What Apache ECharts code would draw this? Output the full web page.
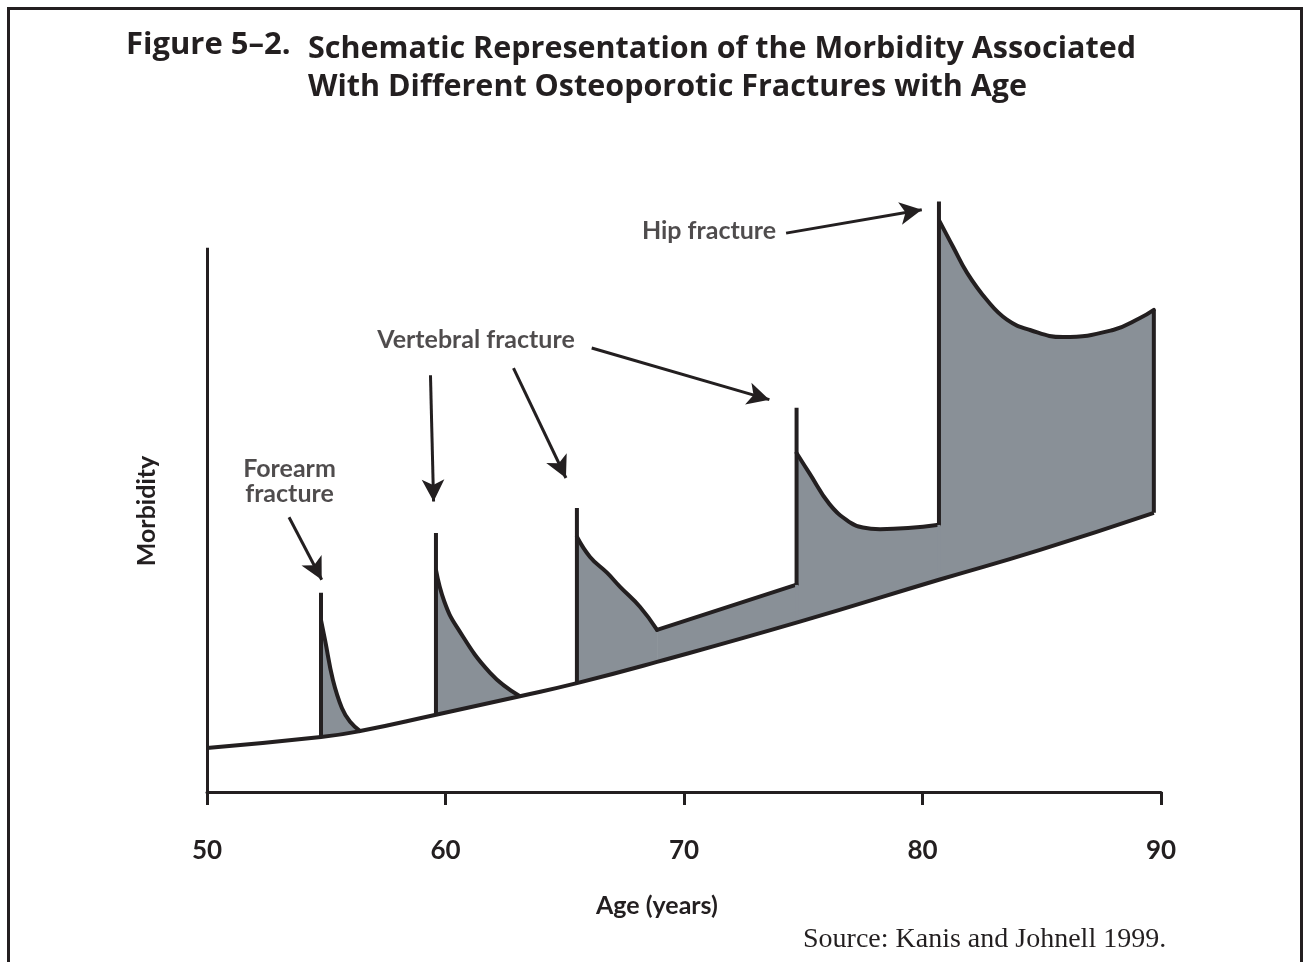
<!DOCTYPE html>
<html>
<head>
<meta charset="utf-8">
<title>Figure 5-2</title>
<script src="https://cdn.jsdelivr.net/npm/echarts@6/dist/echarts.min.js"></script>
<style>
  html, body { margin: 0; padding: 0; background: #fff; }
  #chart { width: 1304px; height: 962px; }
</style>
</head>
<body>
<div id="chart"></div>
<script>
// 横轴刻度（年龄）
const ageTicks = [50, 60, 70, 80, 90]

// 无骨折时随年龄上升的基础发病曲线 [age, morbidity]
const baseline = [[50, 8.1], [54.78, 10.1], [56.42, 11.2], [59.6, 14.2], [63.12, 17.6], [65.51, 20.0],
  [68.87, 23.9], [74.86, 31.3], [80.69, 39.0], [84.93, 44.5], [89.7, 51.3]]

// 各骨折后的额外发病曲线（从尖峰上的起点开始）
const forearmCurve = [[54.78, 31.6], [54.95, 27.9], [55.28, 20.6], [55.66, 15.4], [56.0, 12.9], [56.42, 11.2]]
const vertebralCurve1 = [[59.6, 40.8], [59.95, 35.0], [60.48, 30.3], [61.87, 21.9], [63.12, 17.6]]
const vertebralCurve2 = [[65.51, 46.9], [66.06, 43.2], [66.77, 40.3], [67.32, 37.7], [68.16, 34.0], [68.87, 29.8]]
const vertebralLink = [[68.87, 29.8], [74.72, 38.1]]
const vertebralCurve3 = [[74.72, 62.3], [75.27, 58.5], [76.1, 52.9], [76.94, 49.6], [77.5, 48.6], [78.22, 48.3], [80.69, 49.1]]
const hipCurve = [[80.69, 105.1], [81.28, 100.2], [81.87, 95.4], [82.7, 90.4], [83.54, 86.8],
  [84.51, 84.9], [85.89, 83.6], [87.99, 84.9], [89.12, 87.1], [89.7, 88.6]]

// 竖直尖峰线 [age, from, to]
const spikes = [[54.78, 10.1, 36.6], [59.6, 14.2, 47.6], [65.51, 20.0, 52.2], [74.72, 38.1, 70.6],
  [80.69, 49.1, 108.5], [89.7, 51.3, 88.6]]

// 相邻填充区域的接缝 [age, from, to]
const seams = [[74.72, 31.2, 38.1], [80.69, 39.0, 49.1]]

// 标注文字 [age, morbidity, text]
const labels = [[53.46, 57.1, 'Forearm\nfracture'], [61.28, 83.1, 'Vertebral fracture'], [71.05, 103.1, 'Hip fracture']]

// 箭头 [fromAge, fromMorbidity, toAge, toMorbidity]
const arrows = [[53.44, 50.5, 54.81, 39.0], [59.37, 76.6, 59.5, 53.4], [62.85, 77.9, 65.05, 57.7],
  [66.13, 81.6, 73.58, 72.1], [74.28, 102.7, 79.97, 107.0]]

const INK = '#231f20'
const GREY = '#899097'
const SANS = 'Lato, "Open Sans", sans-serif'
const TITLE_FONT = '"Open Sans", Lato, sans-serif'

function fractureSeries(data, smooth) {
  return {
    type: 'line',
    data: data,
    smooth: smooth,
    symbol: 'none',
    z: 2,
    lineStyle: { color: INK, width: 4, join: 'round', cap: 'round' },
    areaStyle: { color: GREY, opacity: 1, origin: 'start' }
  }
}

function vLine(s, color, width, z) {
  return {
    type: 'line',
    data: [[s[0], s[1]], [s[0], s[2]]],
    symbol: 'none',
    z: z,
    lineStyle: { color: color, width: width }
  }
}

const series = [
  fractureSeries(forearmCurve, 0.45),
  fractureSeries(vertebralCurve1, 0.45),
  fractureSeries(vertebralCurve2, 0.45),
  fractureSeries(vertebralLink, false),
  fractureSeries(vertebralCurve3, 0.45),
  fractureSeries(hipCurve, 0.45)
]

// 填充区的接缝用同色线盖住
seams.forEach(function (s) { series.push(vLine(s, GREY, 3, 2.5)) })
// 右端灰色溢出用白线盖住
series.push(vLine([89.7, 0, 51.3], '#ffffff', 3, 2.5))

series.push({
  type: 'line',
  data: baseline,
  smooth: 0.5,
  symbol: 'none',
  z: 3,
  lineStyle: { color: INK, width: 4 },
  areaStyle: { color: '#ffffff', opacity: 1, origin: 'start' },
  markLine: {
    silent: true,
    symbol: ['none', 'none'],
    label: { show: false },
    lineStyle: { color: INK, width: 3, type: 'solid' },
    data: [[{ coord: [ageTicks[0], 0] }, { coord: [ageTicks[0], 100] }]]
  }
})

spikes.forEach(function (s) { series.push(vLine(s, INK, 4, 4)) })

series.push({
  type: 'scatter',
  data: labels,
  symbolSize: 0,
  z: 6,
  label: {
    show: true,
    position: 'inside',
    formatter: function (p) { return p.value[2] },
    color: INK,
    fontFamily: SANS,
    fontWeight: 'bold',
    fontSize: 25,
    lineHeight: 25,
    align: 'center'
  },
  markLine: {
    silent: true,
    symbol: ['none', 'arrow'],
    symbolSize: [17, 22],
    label: { show: false },
    lineStyle: { color: INK, width: 3, type: 'solid' },
    data: arrows.map(function (a) { return [{ coord: [a[0], a[1]] }, { coord: [a[2], a[3]] }] })
  }
})

const chart = echarts.init(document.getElementById('chart'), null, { renderer: 'canvas' })
chart.setOption({
  animation: false,
  backgroundColor: '#ffffff',
  title: [
    { text: 'Figure 5–2.', left: 126, top: 30, padding: 0,
      textStyle: { fontFamily: TITLE_FONT, fontSize: 31, fontWeight: 'bold', color: INK } },
    { text: 'Schematic Representation of the Morbidity Associated\nWith Different Osteoporotic Fractures with Age',
      left: 308, top: 30, padding: 0,
      textStyle: { fontFamily: TITLE_FONT, fontSize: 30.5, fontWeight: 'bold', color: INK, lineHeight: 38 } },
    { text: 'Age (years)', left: 596, top: 893, padding: 0,
      textStyle: { fontFamily: SANS, fontSize: 25, fontWeight: 'bold', color: INK } },
    { text: 'Source: Kanis and Johnell 1999.', left: 803, top: 926, padding: 0,
      textStyle: { fontFamily: '"Liberation Serif", "DejaVu Serif", serif', fontSize: 28, fontWeight: 'normal', color: INK } }
  ],
  graphic: [
    { type: 'rect', silent: true, shape: { x: 8.5, y: 8.5, width: 1293, height: 1000 },
      style: { fill: 'none', stroke: INK, lineWidth: 3 } },
    { type: 'text', x: 147, y: 511, rotation: Math.PI / 2, silent: true,
      style: { text: 'Morbidity', fontFamily: SANS, fontWeight: 'bold', fontSize: 25, fill: INK, align: 'center', verticalAlign: 'middle' } }
  ],
  grid: { left: 207, right: 143, top: 139, bottom: 170, containLabel: false },
  xAxis: {
    type: 'value',
    min: ageTicks[0],
    max: ageTicks[ageTicks.length - 1],
    interval: 10,
    z: 10,
    axisLine: { lineStyle: { color: INK, width: 3 } },
    axisTick: { length: 13, lineStyle: { color: INK, width: 3 } },
    axisLabel: { margin: 46, color: INK, fontFamily: SANS, fontWeight: 'bold', fontSize: 26 },
    splitLine: { show: false }
  },
  yAxis: {
    type: 'value',
    min: 0,
    max: 120,
    axisLine: { show: false },
    axisTick: { show: false },
    axisLabel: { show: false },
    splitLine: { show: false }
  },
  series: series
})
</script>
</body>
</html>
